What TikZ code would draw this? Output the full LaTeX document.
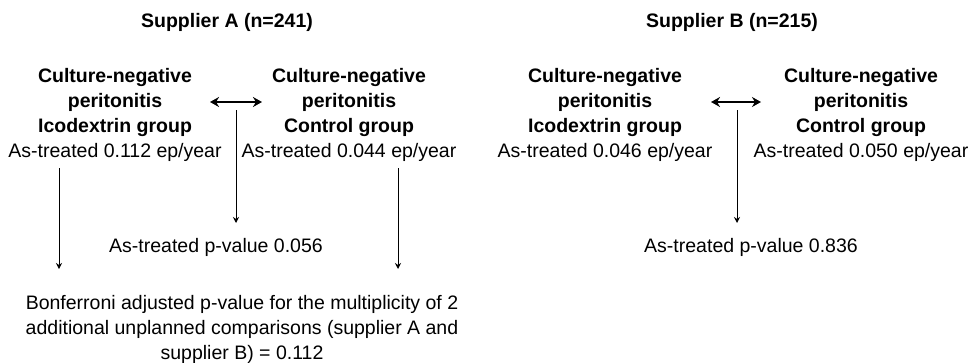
\documentclass[tikz,border=0pt]{standalone}
\usepackage{fontspec}
\setmainfont{Liberation Sans}
\usetikzlibrary{arrows.meta}
\begin{document}
\begin{tikzpicture}[x=1pt,y=-1pt,
  txt/.style={inner sep=0pt, font=\fontsize{19.5}{25}\selectfont, align=center, text=black},
  ttl/.style={txt, font=\fontsize{19.5}{25}\selectfont\bfseries},
  conn/.style={line width=1pt, -{Stealth[length=6pt,width=6pt]}},
  dbl/.style={line width=2.5pt, {Stealth[length=9pt,width=10pt]}-{Stealth[length=9pt,width=10pt]}}]
\useasboundingbox (0,0) rectangle (973,362);
% titles
\node[ttl, anchor=base] (supA) at (227,27) {Supplier A (n=241)};
\node[ttl, anchor=base] (supB) at (732,27) {Supplier B (n=215)};
% supplier A groups
\node[txt] (aIco) at (115,115) {\textbf{Culture-negative}\\\textbf{peritonitis}\\\textbf{Icodextrin group}\\As-treated 0.112 ep/year};
\node[txt] (aCon) at (349,115) {\textbf{Culture-negative}\\\textbf{peritonitis}\\\textbf{Control group}\\As-treated 0.044 ep/year};
\node[txt, anchor=base] (aP) at (216,252) {As-treated p-value 0.056};
\node[txt] (bonf) at (242,329) {Bonferroni adjusted p-value for the multiplicity of 2\\additional unplanned comparisons (supplier A and\\supplier B) = 0.112};
% supplier B groups
\node[txt] (bIco) at (605,115) {\textbf{Culture-negative}\\\textbf{peritonitis}\\\textbf{Icodextrin group}\\As-treated 0.046 ep/year};
\node[txt] (bCon) at (861,115) {\textbf{Culture-negative}\\\textbf{peritonitis}\\\textbf{Control group}\\As-treated 0.050 ep/year};
\node[txt, anchor=base] (bP) at (751,252) {As-treated p-value 0.836};
% connector end points
\coordinate (aDL) at (210,102); \coordinate (aDR) at (262,102);
\coordinate (aM1) at (236,110); \coordinate (aM2) at (236,223);
\coordinate (aL1) at (59,168);  \coordinate (aL2) at (59,269);
\coordinate (aR1) at (398,168); \coordinate (aR2) at (398,269);
\coordinate (bDL) at (711,102); \coordinate (bDR) at (761,102);
\coordinate (bM1) at (737,110); \coordinate (bM2) at (737,223);
% connectors
\draw[dbl] (aDL) -- (aDR);
\draw[conn] (aM1) -- (aM2);
\draw[conn] (aL1) -- (aL2);
\draw[conn] (aR1) -- (aR2);
\draw[dbl] (bDL) -- (bDR);
\draw[conn] (bM1) -- (bM2);
\end{tikzpicture}
\end{document}
